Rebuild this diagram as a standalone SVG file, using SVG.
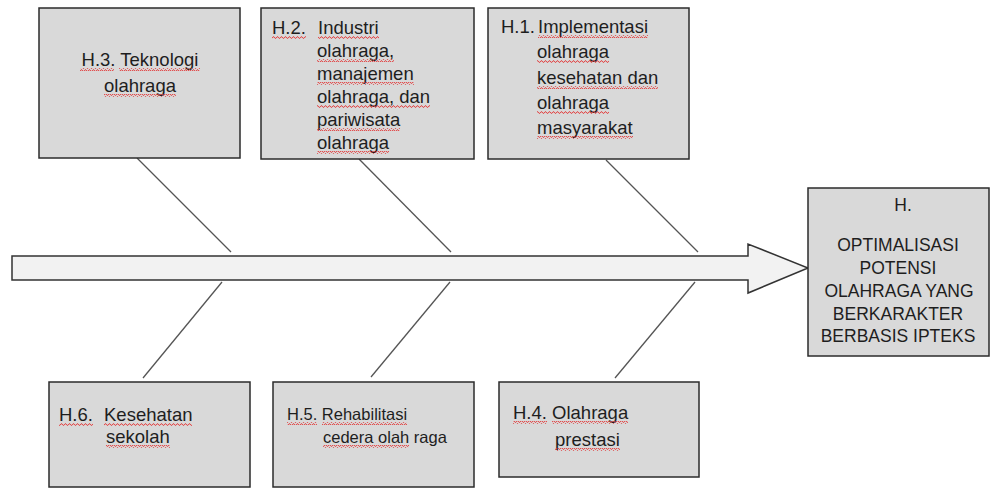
<svg xmlns="http://www.w3.org/2000/svg" width="992" height="489" viewBox="0 0 992 489">
<defs>
<pattern id="wave" x="0" y="0" width="4" height="3" patternUnits="userSpaceOnUse">
<path d="M0 2.3 L1 0.8 L2 0.8 L3 2.3 L4 2.3" fill="none" stroke="#e23a3a" stroke-width="0.9"/>
</pattern>
</defs>
<style>
.box{fill:#d9d9d9;stroke:#2b2b2b;stroke-width:1.5}
.t{font-family:"Liberation Sans",Arial,sans-serif;font-size:18.5px;fill:#1e1e1e}
.s{font-size:16.5px}
.h{font-size:17.5px}
.c{text-anchor:middle}
.sq{fill:url(#wave)}
.ln{stroke:#555;stroke-width:1.3;fill:none}
.arrow{fill:#f2f2f2;stroke:#333;stroke-width:1.5}
</style>
<rect width="992" height="489" fill="#ffffff"/>
<g id="connectors">
<polygon class="arrow" points="12,256 748,256 748,244 808,268 748,293 748,280 12,280"/>
<line class="ln" x1="137" y1="158" x2="231" y2="252"/>
<line class="ln" x1="359" y1="159" x2="451" y2="252"/>
<line class="ln" x1="606" y1="160" x2="698" y2="252"/>
<line class="ln" x1="222" y1="282" x2="143" y2="378"/>
<line class="ln" x1="450" y1="282" x2="371" y2="377"/>
<line class="ln" x1="695" y1="282" x2="615" y2="378"/>
</g>
<g id="node-h3">
<rect class="box" x="39" y="8" width="201" height="150"/>
<text class="t c" x="140" y="66">H.3. Teknologi</text>
<text class="t c" x="140" y="92">olahraga</text>
<rect class="sq" x="80" y="68" width="34" height="3"/>
<rect class="sq" x="119" y="68" width="81" height="3"/>
<rect class="sq" x="104" y="94" width="72" height="3"/>
</g>
<g id="node-h2">
<rect class="box" x="261" y="8" width="213" height="151"/>
<text class="t" x="272" y="34">H.2.</text>
<text class="t" x="318" y="34">Industri</text>
<text class="t" x="317" y="57">olahraga,</text>
<text class="t" x="317" y="80">manajemen</text>
<text class="t" x="317" y="103">olahraga, dan</text>
<text class="t" x="317" y="126">pariwisata</text>
<text class="t" x="317" y="149">olahraga</text>
<rect class="sq" x="272" y="36" width="34" height="3"/>
<rect class="sq" x="318" y="36" width="61" height="3"/>
<rect class="sq" x="317" y="59" width="77" height="3"/>
<rect class="sq" x="317" y="82" width="97" height="3"/>
<rect class="sq" x="317" y="105" width="113" height="3"/>
<rect class="sq" x="317" y="128" width="83" height="3"/>
<rect class="sq" x="317" y="151" width="72" height="3"/>
</g>
<g id="node-h1">
<rect class="box" x="488" y="8" width="201" height="151"/>
<text class="t" x="501" y="33">H.1.</text>
<text class="t" x="538" y="33">Implementasi</text>
<text class="t" x="537" y="58">olahraga</text>
<text class="t" x="537" y="84">kesehatan dan</text>
<text class="t" x="537" y="109">olahraga</text>
<text class="t" x="537" y="134">masyarakat</text>
<rect class="sq" x="538" y="35" width="110" height="3"/>
<rect class="sq" x="537" y="60" width="72" height="3"/>
<rect class="sq" x="537" y="86" width="121" height="3"/>
<rect class="sq" x="537" y="111" width="72" height="3"/>
<rect class="sq" x="537" y="136" width="96" height="3"/>
</g>
<g id="node-h">
<rect class="box" x="808" y="188" width="181" height="168"/>
<text class="t h c" x="903" y="211">H.</text>
<text class="t h c" x="898" y="251">OPTIMALISASI</text>
<text class="t h c" x="898" y="274">POTENSI</text>
<text class="t h c" x="899" y="297">OLAHRAGA YANG</text>
<text class="t h c" x="898" y="320">BERKARAKTER</text>
<text class="t h c" x="898" y="342">BERBASIS IPTEKS</text>
</g>
<g id="node-h6">
<rect class="box" x="49" y="382" width="201" height="105"/>
<text class="t" x="59" y="421">H.6.</text>
<text class="t" x="104" y="421">Kesehatan</text>
<text class="t" x="106" y="443">sekolah</text>
<rect class="sq" x="59" y="423" width="34" height="3"/>
<rect class="sq" x="104" y="423" width="88" height="3"/>
<rect class="sq" x="106" y="445" width="64" height="3"/>
</g>
<g id="node-h5">
<rect class="box" x="273" y="382" width="201" height="105"/>
<text class="t s" x="287" y="420">H.5. Rehabilitasi</text>
<text class="t s" x="323" y="443">cedera olah raga</text>
<rect class="sq" x="287" y="422" width="30" height="3"/>
<rect class="sq" x="322" y="422" width="85" height="3"/>
<rect class="sq" x="323" y="445" width="86" height="3"/>
</g>
<g id="node-h4">
<rect class="box" x="499" y="382" width="200" height="95"/>
<text class="t" x="513" y="419">H.4. Olahraga</text>
<text class="t" x="555" y="446">prestasi</text>
<rect class="sq" x="513" y="421" width="34" height="3"/>
<rect class="sq" x="552" y="421" width="76" height="3"/>
<rect class="sq" x="555" y="448" width="65" height="3"/>
</g>
</svg>
